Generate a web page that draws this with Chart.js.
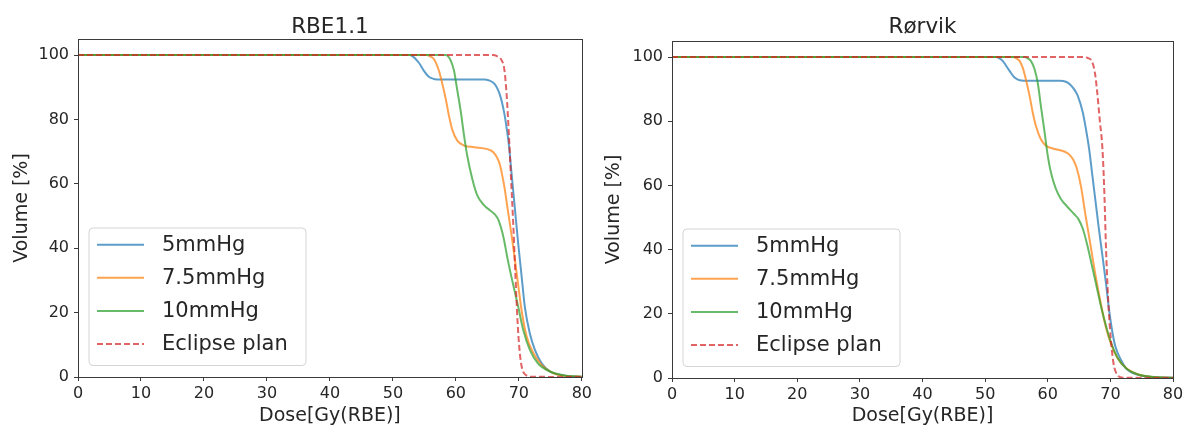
<!DOCTYPE html>
<html>
<head>
<meta charset="utf-8">
<script src="https://cdn.jsdelivr.net/npm/chart.js@4.4.1/dist/chart.umd.min.js"></script>
<style>
  html, body { margin: 0; padding: 0; background: #fff; }
  #wrap { position: relative; width: 1191px; height: 428px; overflow: hidden; }
  canvas { position: absolute; top: 0; }
</style>
</head>
<body>
<div id="wrap">
  <canvas id="rbe" width="595" height="428" style="left:0px"></canvas>
  <canvas id="rorvik" width="596" height="428" style="left:595px"></canvas>
</div>
<script>
// Dose-volume histograms: dose [Gy(RBE)] vs. volume [%], pairs of [dose, volume]
const seriesLabels = ['5mmHg', '7.5mmHg', '10mmHg', 'Eclipse plan'];
const panelTitles = ['RBE1.1', 'Rørvik'];
const doseTicks = [0, 10, 20, 30, 40, 50, 60, 70, 80];
const volumeTicks = [0, 20, 40, 60, 80, 100];

// RBE1.1 panel
const rbe5mmHg = [[0,100],[52.6,100],[53.1,99.7],[54.1,97.7],[54.9,95.2],[55.7,93.3],[56.5,92.6],[57.6,92.4],[64.5,92.4],[65.3,92.1],[65.9,91.5],[66.4,90.3],[66.9,88.2],[67.3,85.5],[67.7,81.8],[68.05,77.5],[68.4,72.5],[68.85,63.1],[69.35,52.8],[69.9,41.4],[70.45,31.1],[70.95,21.8],[71.75,13.5],[72.55,8.4],[73.65,4.2],[74.95,1.7],[77,0.5],[80,0.1]];
const rbe7_5mmHg = [[0,100],[55.4,100],[55.9,99.6],[56.5,98.8],[57.3,95.2],[57.8,91.5],[58.4,86.3],[58.9,81.2],[59.4,77.0],[60.2,73.5],[61.3,71.9],[62.9,71.4],[65.0,70.8],[65.6,70.3],[66.1,69.5],[66.5,68.3],[66.95,66.2],[67.35,62.8],[67.75,58.5],[68.25,51.8],[68.85,44.0],[69.35,36.8],[69.9,28.5],[70.45,20.5],[71.25,12.5],[72.35,7.3],[73.65,3.7],[75.45,1.2],[77.5,0.3],[80,0.1]];
const rbe10mmHg = [[0,100],[58.4,100],[58.8,99.5],[59.2,98.2],[59.7,95.2],[60.2,89.4],[60.8,82.2],[61.3,75.0],[61.8,68.8],[62.6,61.6],[63.4,56.4],[64.5,53.3],[65.4,51.8],[66.15,50.6],[66.75,48.8],[67.55,43.5],[68.25,36.3],[69.05,29.1],[69.9,21.8],[70.7,14.6],[71.75,8.4],[73.05,4.2],[74.95,1.7],[77.5,0.4],[80,0.1]];
const rbeEclipse = [[0,100],[65.8,100],[66.6,99.6],[67.2,98.6],[67.7,95.5],[68.05,88.0],[68.4,76.0],[68.75,62.0],[69.1,48.0],[69.45,32.0],[69.8,17.0],[70.15,7.5],[70.5,2.8],[71.0,0.8],[72,0.1],[80,0]];

// Rørvik panel
const ror5mmHg = [[0,100],[51.7,100],[52.3,99.6],[52.8,98.8],[53.9,95.7],[54.7,93.6],[55.5,92.8],[57,92.6],[61.9,92.6],[62.9,92.3],[63.6,91.4],[64.2,90.0],[64.8,87.9],[65.6,82.7],[66.1,77.5],[66.6,71.5],[67.1,63.5],[67.6,55.5],[68.1,47.5],[68.6,40.0],[69.3,29.5],[69.84,20.5],[70.3,14.5],[70.8,9.8],[71.7,5.6],[72.5,3.0],[73.5,1.6],[75,0.7],[77.5,0.2],[80,0.1]];
const ror7_5mmHg = [[0,100],[54.4,100],[55.0,99.6],[55.5,98.8],[56.0,96.7],[56.5,93.1],[57.1,87.9],[57.6,82.7],[58.1,78.6],[58.9,74.4],[59.7,72.4],[60.8,71.5],[62.1,70.9],[63.0,70.2],[63.6,69.3],[64.1,67.9],[64.6,65.6],[65.3,59.8],[66.08,50.1],[66.88,40.8],[67.67,31.5],[68.47,23.2],[69.27,16.0],[70.07,10.8],[71.13,6.2],[72.46,3.2],[74.59,1.0],[77.5,0.2],[80,0.1]];
const ror10mmHg = [[0,100],[56.3,100],[56.8,99.6],[57.3,98.8],[57.9,96.2],[58.4,92.0],[58.9,84.8],[59.5,76.5],[60.0,69.3],[60.5,64.1],[61.3,58.9],[62.1,55.8],[63.2,53.2],[64.2,51.1],[64.9,49.5],[65.6,46.5],[66.3,41.5],[67.0,35.5],[67.8,28.5],[68.6,21.5],[69.4,15.5],[70.1,11.0],[71.1,6.5],[72.5,3.0],[74.6,1.0],[77.5,0.2],[80,0.1]];
const rorEclipse = [[0,100],[65.6,100],[66.4,99.7],[67.0,98.8],[67.5,95.5],[67.9,89.0],[68.3,80.5],[68.75,70.9],[69.05,57.0],[69.31,40.0],[69.55,28.5],[69.73,21.5],[70.1,11.5],[70.5,4.6],[71.1,1.0],[72,0.1],[80,0]];

const lineColors = ['rgba(31,119,180,0.72)', 'rgba(255,127,14,0.72)', 'rgba(44,160,44,0.72)', 'rgba(214,39,40,0.72)'];
const textColor = '#262626';
const axisColor = '#3a3a3a';
const FONT = "'DejaVu Sans', sans-serif";

function makeDatasets(curves) {
  return curves.map((pts, i) => ({
    label: seriesLabels[i],
    data: pts.map(p => ({ x: p[0], y: p[1] })),
    borderColor: lineColors[i],
    backgroundColor: lineColors[i],
    borderWidth: 2,
    borderDash: i === 3 ? [6, 3] : [],
    pointRadius: 0,
    fill: false,
    cubicInterpolationMode: 'monotone',
    order: 3 - i
  }));
}

// Frame, panel title and in-axes legend
const decorPlugin = {
  id: 'decor',
  afterDatasetsDraw(chart, args, opts) {
    const { ctx, chartArea: a } = chart;
    ctx.save();
    // full box around the axes
    ctx.strokeStyle = axisColor;
    ctx.lineWidth = 1;
    ctx.strokeRect(Math.round(a.left) + 0.5, Math.round(a.top) + 0.5, Math.round(a.right - a.left), Math.round(a.bottom - a.top));

    // title
    ctx.fillStyle = textColor;
    ctx.font = "21.5px " + FONT;
    ctx.textAlign = 'center';
    ctx.textBaseline = 'alphabetic';
    ctx.fillText(opts.title, (a.left + a.right) / 2, 32.5);

    // legend box
    const bx = a.left + 11, by = a.bottom - 149, bw = 217, bh = 137.5, r = 4;
    ctx.beginPath();
    ctx.moveTo(bx + r, by);
    ctx.arcTo(bx + bw, by, bx + bw, by + bh, r);
    ctx.arcTo(bx + bw, by + bh, bx, by + bh, r);
    ctx.arcTo(bx, by + bh, bx, by, r);
    ctx.arcTo(bx, by, bx + bw, by, r);
    ctx.closePath();
    ctx.fillStyle = 'rgba(255,255,255,0.8)';
    ctx.fill();
    ctx.strokeStyle = '#d4d4d4';
    ctx.lineWidth = 1;
    ctx.stroke();

    ctx.font = "21px " + FONT;
    ctx.textAlign = 'left';
    ctx.textBaseline = 'middle';
    chart.data.datasets.forEach((ds, i) => {
      const y = a.bottom - 132.3 + i * 33.1;
      ctx.beginPath();
      ctx.setLineDash(ds.borderDash || []);
      ctx.strokeStyle = ds.borderColor;
      ctx.lineWidth = 2;
      ctx.moveTo(a.left + 19, y);
      ctx.lineTo(a.left + 66, y);
      ctx.stroke();
      ctx.setLineDash([]);
      ctx.fillStyle = textColor;
      ctx.fillText(ds.label, a.left + 84, y + 1);
    });
    ctx.restore();
  }
};

function makeChart(id, title, curves, pad, yAxisWidth, xAxisHeight, yTitlePad) {
  return new Chart(document.getElementById(id), {
    type: 'line',
    data: { datasets: makeDatasets(curves) },
    plugins: [decorPlugin],
    options: {
      responsive: false,
      animation: false,
      devicePixelRatio: 1,
      layout: { padding: pad },
      plugins: {
        legend: { display: false },
        tooltip: { enabled: false },
        decor: { title: title }
      },
      scales: {
        x: {
          type: 'linear',
          min: 0, max: 80,
          afterBuildTicks: s => { s.ticks = doseTicks.map(v => ({ value: v })); },
          afterFit: s => { s.height = xAxisHeight; },
          grid: { drawOnChartArea: false, drawTicks: true, tickLength: 4, tickColor: axisColor, tickWidth: 1 },
          border: { display: true, color: axisColor, width: 1 },
          ticks: { color: textColor, font: { family: FONT, size: 16 }, padding: 3, maxRotation: 0, autoSkip: false },
          title: { display: true, text: 'Dose[Gy(RBE)]', color: textColor, font: { family: FONT, size: 19 }, padding: { top: 0, bottom: 1 } }
        },
        y: {
          type: 'linear',
          min: 0, max: 105,
          afterBuildTicks: s => { s.ticks = volumeTicks.map(v => ({ value: v })); },
          afterFit: s => { s.width = yAxisWidth; },
          grid: { drawOnChartArea: false, drawTicks: true, tickLength: 4, tickColor: axisColor, tickWidth: 1 },
          border: { display: true, color: axisColor, width: 1 },
          ticks: { color: textColor, font: { family: FONT, size: 16 }, padding: 5, autoSkip: false },
          title: { display: true, text: 'Volume [%]', color: textColor, font: { family: FONT, size: 19 }, padding: { top: yTitlePad, bottom: 0 } }
        }
      }
    }
  });
}

makeChart('rbe', panelTitles[0], [rbe5mmHg, rbe7_5mmHg, rbe10mmHg, rbeEclipse],
  { top: 39, right: 13, left: 0, bottom: 0 }, 78, 51, 10.6);
makeChart('rorvik', panelTitles[1], [ror5mmHg, ror7_5mmHg, ror10mmHg, rorEclipse],
  { top: 41, right: 18, left: 0, bottom: 0 }, 77, 50, 7.6);
</script>
</body>
</html>
